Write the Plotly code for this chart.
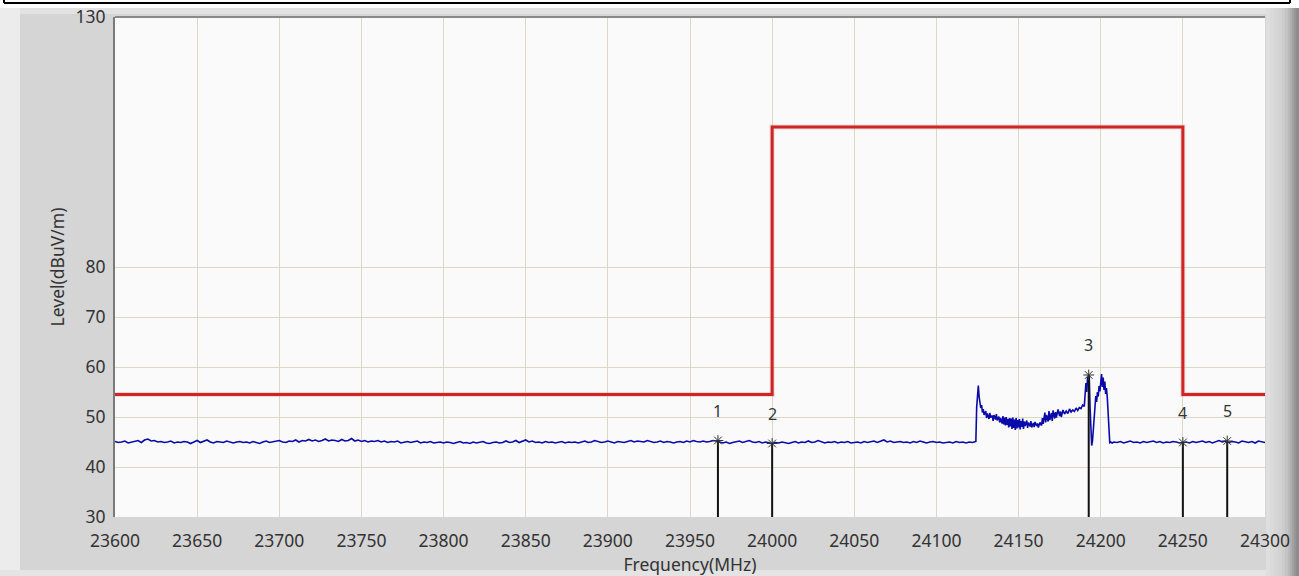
import plotly.graph_objects as go

# ---------------- data ----------------
# baseline sweep, 23600 .. 24122 MHz, 2 MHz steps
low_start, low_step = 23600, 2
low_values = [
    45.1,44.9,45.0,45.2,44.8,45.0,45.1,45.3,44.9,45.4,45.6,45.2,45.3,45.0,45.1,44.9,45.0,45.2,44.8,45.0,
    44.9,45.1,45.0,44.7,45.0,45.3,44.9,45.1,45.4,45.0,44.8,45.1,45.0,44.9,45.2,45.0,44.8,45.0,45.1,44.9,
    45.0,44.8,45.1,44.9,44.7,45.0,45.2,44.9,45.0,45.1,45.3,45.0,44.9,45.2,45.1,45.4,45.0,45.3,45.2,45.5,
    45.2,45.4,45.1,45.3,45.6,45.2,45.4,45.3,45.1,45.5,45.2,45.3,45.7,45.2,45.4,45.1,45.3,45.0,45.2,45.1,
    45.3,45.0,45.2,44.9,45.1,45.0,45.2,44.8,45.0,45.1,44.9,45.0,45.2,44.8,45.0,44.9,45.1,44.8,44.9,45.0,
    44.8,45.0,44.9,44.7,44.9,45.1,44.8,44.9,44.7,45.0,44.8,44.9,45.1,44.8,44.7,44.9,45.0,44.8,44.9,45.2,
    44.9,45.0,45.3,44.9,45.1,45.4,45.0,45.2,44.9,45.0,44.8,45.1,44.9,45.0,44.8,44.9,45.1,44.8,45.0,44.9,
    45.0,44.8,45.0,45.2,44.9,45.0,45.3,45.1,44.9,45.0,45.2,45.0,44.8,45.1,45.0,44.9,45.1,45.3,45.0,45.2,
    45.1,45.0,45.3,45.1,44.9,45.0,45.2,44.9,45.1,45.0,44.8,45.0,45.1,44.9,45.2,45.0,45.3,45.1,45.0,45.2,
    45.0,45.1,45.3,45.2,45.0,44.8,45.0,44.7,44.9,45.0,45.2,44.9,45.1,45.3,45.0,44.9,45.1,44.8,45.0,44.9,
    44.7,44.9,44.8,45.0,44.9,44.7,44.9,45.1,44.8,45.0,44.9,45.2,44.9,45.0,45.3,45.0,44.8,45.0,44.9,45.1,
    44.8,45.0,44.9,45.1,44.8,44.9,45.0,44.8,45.1,44.9,45.0,45.2,44.9,45.1,45.4,45.0,45.2,44.9,45.0,45.1,
    44.9,45.0,44.8,45.1,44.9,45.2,45.0,44.8,45.0,45.1,44.9,45.0,44.8,44.9,45.0,44.8,45.1,44.9,45.0,44.8,
    45.0,44.9,
]

# signal region, explicit frequencies (MHz) and levels (dBuV/m)
sig_freq = [
    24123,24124,24124.5,24125,24125.5,24126,24126.5,24127,24127.5,24128,24128.5,24129,24130,24130.5,
    24131,24132,24132.5,24133,24134,24134.5,24135,24136,24136.5,24137,24138,24138.5,24139,24140,
    24140.5,24141,24141.5,24142,24142.5,24143,24143.5,24144,24144.5,24145,24145.5,24146,24146.5,
    24147,24147.5,24148,24148.5,24149,24149.5,24150,24150.5,24151,24151.5,24152,24152.5,24153,
    24153.5,24154,24155,24155.5,24156,24157,24157.5,24158,24159,24159.5,24160,24161,24161.5,24162,
    24163,24164,24164.5,24165,24166,24166.5,24167,24168,24168.5,24169,24170,24170.5,24171,24172,
    24172.5,24173,24174,24175,24175.5,24176,24177,24178,24179,24180,24181,24182,24183,24184,24185,
    24186,24187,24188,24189,24190,24190.5,24191,24191.5,24192,24192.5,24193,24193.5,24194,24194.5,
    24195,24195.5,24196,24196.5,24197,24197.5,24198,24198.5,24199,24199.5,24200,24200.5,24201,
    24201.5,24202,24202.5,24203,24203.5,24204,24204.5,24205,24205.5,24206,24207,
]
sig_values = [
    45.0,45.1,52.0,55.5,56.3,54.0,52.5,51.8,52.4,50.9,51.6,50.4,51.2,49.8,
    50.7,49.6,50.8,49.9,50.3,49.2,50.4,49.5,50.6,49.3,50.1,48.9,49.8,48.7,
    50.2,48.5,49.9,48.3,50.0,48.4,49.6,47.9,49.8,48.1,49.7,47.6,49.9,
    47.8,49.5,47.4,49.8,47.7,49.4,47.9,49.6,47.5,49.2,48.0,49.7,47.6,
    49.1,48.2,49.3,47.8,48.9,48.1,49.2,47.9,48.8,48.0,49.0,48.2,48.7,47.9,
    48.9,48.3,49.8,48.6,50.9,48.9,50.4,49.1,51.2,49.4,50.8,49.2,51.3,49.7,
    51.0,49.9,51.5,50.2,51.1,50.0,51.4,50.6,51.2,50.7,51.6,51.0,51.4,51.1,51.8,
    51.3,51.9,51.7,52.4,52.1,54.5,56.8,55.0,58.0,57.2,58.4,52.0,46.0,44.3,
    45.2,47.8,50.5,52.6,54.2,53.0,55.0,54.1,56.2,55.1,57.6,58.6,56.0,
    57.9,55.4,57.1,54.6,55.8,53.9,50.2,46.0,44.9,45.0,44.8,
]

# baseline sweep, 24208 .. 24300 MHz, 2 MHz steps
high_start, high_step = 24208, 2
high_values = [
    45.0,44.9,45.1,44.8,45.0,45.2,44.9,45.0,44.8,45.1,
    44.9,45.0,45.2,44.9,45.1,44.8,45.0,44.9,45.1,45.0,
    44.8,44.9,45.0,44.8,45.1,44.9,45.0,45.2,44.9,45.1,
    44.8,45.0,45.3,45.0,45.2,44.9,45.1,45.0,44.8,45.2,
    45.0,44.9,45.1,44.8,45.2,45.0,44.9,
]

# limit line (step)
limit_freq = [23600, 24000, 24000, 24250, 24250, 24300]
limit_level = [54.5, 54.5, 108.0, 108.0, 54.5, 54.5]

# markers
marker_labels = ["1", "2", "3", "4", "5"]
marker_freq = [23967, 24000, 24192.7, 24250, 24277]
marker_level = [45.3, 44.7, 58.4, 44.9, 45.2]

x_ticks = [23600, 23650, 23700, 23750, 23800, 23850, 23900, 23950,
           24000, 24050, 24100, 24150, 24200, 24250, 24300]
y_ticks = [30, 40, 50, 60, 70, 80, 130]

# ---------------- build ----------------
trace_freq = ([low_start + low_step * i for i in range(len(low_values))]
              + sig_freq
              + [high_start + high_step * i for i in range(len(high_values))])
trace_level = low_values + sig_values + high_values

W, H = 1299, 576
L, R, T, B = 115, 1265, 17, 517
def px(x):
    return (x - L) / (R - L)
def py(y):
    return (B - y) / (B - T)

FONT = "Noto Sans"
fig = go.Figure()

# limit line glow + core
fig.add_trace(go.Scatter(x=limit_freq, y=limit_level, mode="lines",
                         line=dict(color="rgba(240,120,120,0.28)", width=5),
                         hoverinfo="skip", showlegend=False))
fig.add_trace(go.Scatter(x=limit_freq, y=limit_level, mode="lines",
                         line=dict(color="#cc2626", width=3),
                         showlegend=False))
# measurement trace
fig.add_trace(go.Scatter(x=trace_freq, y=trace_level, mode="lines",
                         line=dict(color="#0a0aaa", width=1.6),
                         showlegend=False))
# marker stems
for f, v in zip(marker_freq, marker_level):
    fig.add_trace(go.Scatter(x=[f, f], y=[30, v], mode="lines",
                             line=dict(color="#111111", width=2),
                             hoverinfo="skip", showlegend=False))
fig.add_trace(go.Scatter(x=marker_freq, y=marker_level, mode="markers",
                         marker=dict(symbol="asterisk-open", size=9, color="#333333",
                                     line=dict(color="#333333", width=1)),
                         showlegend=False))
for lab, f, v in zip(marker_labels, marker_freq, marker_level):
    fig.add_annotation(x=f, y=v, text=lab, showarrow=False, yshift=30,
                       font=dict(family=FONT, size=16, color="#333333"))

# frame decorations (pixel-placed, drawn below plot area)
shapes = []
def rect(x0, y0, x1, y1, color):
    shapes.append(dict(type="rect", xref="paper", yref="paper", layer="below",
                       x0=px(x0), x1=px(x1), y0=py(y1), y1=py(y0),
                       fillcolor=color, line=dict(width=0)))
rect(0, 0, W, 8, "#ffffff")
rect(0, 8, 20, H, "#ececec")
rect(20, 8, 1266, 14, "#e2e2e2")
rect(0, 570, 1268, H, "#e4e4e4")
grad = ["#dedede", "#dadada", "#d6d6d6", "#d2d2d2", "#cccccc", "#c4c4c4",
        "#bababa", "#aeaeae", "#a2a2a2", "#969696", "#8c8c8c"]
x0 = 1266
widths = [4, 4, 4, 4, 3, 3, 2, 2, 2, 2, 3]
for c, w in zip(grad, widths):
    rect(x0, 8, x0 + w, H, c)
    x0 += w
# thin black border at top
shapes.append(dict(type="line", xref="paper", yref="paper", x0=px(4), x1=px(1290),
                   y0=py(3), y1=py(3), line=dict(color="#000000", width=2)))
shapes.append(dict(type="line", xref="paper", yref="paper", x0=px(4), x1=px(4),
                   y0=py(0), y1=py(3), line=dict(color="#000000", width=2)))
shapes.append(dict(type="line", xref="paper", yref="paper", x0=px(1290), x1=px(1290),
                   y0=py(0), y1=py(3), line=dict(color="#000000", width=2)))
# plot top border
shapes.append(dict(type="line", xref="paper", yref="paper", x0=0, x1=1,
                   y0=1, y1=1, line=dict(color="#8a8a8a", width=2)))

fig.update_layout(
    width=W, height=H,
    margin=dict(l=L, r=W - R, t=T, b=H - B, autoexpand=False),
    paper_bgcolor="#d5d5d5",
    plot_bgcolor="#fafafa",
    shapes=shapes,
    font=dict(family=FONT, color="#333333"),
    xaxis=dict(range=[23600, 24300], tickvals=x_ticks,
               ticktext=[str(v) for v in x_ticks], automargin=False,
               showgrid=True, gridcolor="#dcd8c8", gridwidth=1,
               zeroline=False, showline=False,
               ticks="outside", ticklen=8, tickcolor="rgba(0,0,0,0)",
               tickfont=dict(family=FONT, size=17.5, color="#333333"),
               title=dict(text="Frequency(MHz)", standoff=6,
                          font=dict(family=FONT, size=17.5, color="#333333"))),
    yaxis=dict(range=[30, 130], tickvals=y_ticks,
               ticktext=[str(v) for v in y_ticks], automargin=False,
               showgrid=True, gridcolor="#dcd8c8", gridwidth=1,
               zeroline=False, showline=True, linecolor="#7a7a7a", linewidth=2,
               ticks="outside", ticklen=4, tickcolor="rgba(0,0,0,0)",
               tickfont=dict(family=FONT, size=17.5, color="#333333"),
               title=dict(text="Level(dBuV/m)", standoff=6,
                          font=dict(family=FONT, size=17.5, color="#333333"))),
)

fig.write_html("out.html")
